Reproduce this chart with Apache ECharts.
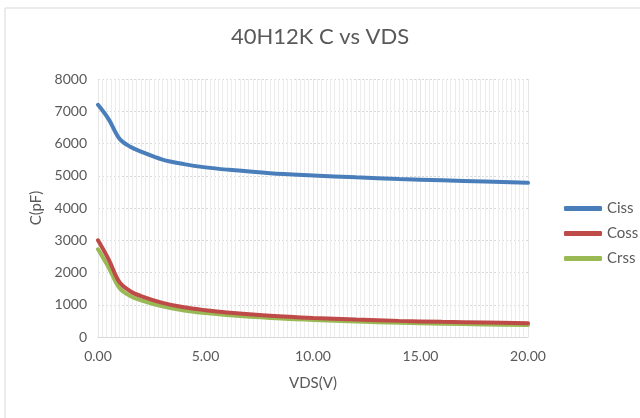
<!DOCTYPE html>
<html>
<head>
<meta charset="utf-8">
<script src="https://cdn.jsdelivr.net/npm/echarts@6/dist/echarts.min.js"></script>
<style>
  html, body { margin: 0; padding: 0; background: #fff; }
  #chart { width: 640px; height: 418px; }
</style>
</head>
<body>
<div id="chart"></div>
<script>
// Capacitance vs drain-source voltage for the 40H12K
const vds  = [0, 0.5, 1, 1.5, 2, 3, 4, 5, 6, 8, 10, 12, 14, 16, 18, 20];
const ciss = [7200, 6750, 6150, 5900, 5750, 5500, 5360, 5260, 5190, 5080, 5010, 4950, 4900, 4860, 4820, 4780];
const coss = [3000, 2400, 1700, 1420, 1270, 1060, 920, 830, 760, 660, 590, 540, 500, 470, 450, 430];
const crss = [2720, 2150, 1520, 1270, 1140, 950, 820, 740, 680, 590, 530, 480, 440, 410, 390, 370];

const seriesNames = ['Ciss', 'Coss', 'Crss'];
const seriesColors = ['#4a7ebb', '#be4b48', '#98b954'];

const FONT = 'Lato, "Noto Sans", sans-serif';
const TEXT = '#595959';

const pairs = ys => vds.map((x, i) => [x, ys[i]]);

const chart = echarts.init(document.getElementById('chart'), null, { renderer: 'canvas' });
chart.setOption({
  backgroundColor: '#fff',
  animation: false,
  title: {
    text: '40H12K C vs VDS',
    left: 'center',
    top: 26,
    padding: [0, 0, 0, 10],
    textStyle: { fontFamily: FONT, fontSize: 22, fontWeight: 'normal', color: TEXT }
  },
  graphic: [{
    type: 'rect',
    shape: { x: 5, y: 8, width: 660, height: 430 },
    style: { fill: 'none', stroke: '#d9d9d9', lineWidth: 1 },
    silent: true
  }],
  legend: {
    orient: 'vertical',
    left: 559,
    top: 196,
    icon: 'roundRect',
    itemWidth: 38,
    itemHeight: 5,
    itemGap: 10,
    textStyle: { fontFamily: FONT, fontSize: 15, color: TEXT },
    data: seriesNames
  },
  grid: { left: 98, right: 112, top: 79, bottom: 81 },
  xAxis: {
    type: 'value',
    min: 0, max: 20, interval: 5,
    name: 'VDS(V)',
    nameLocation: 'middle',
    nameGap: 39,
    nameTextStyle: { fontFamily: FONT, fontSize: 15, color: TEXT },
    axisLine: { show: true, lineStyle: { color: '#d9d9d9', width: 1 } },
    axisTick: { show: false },
    axisLabel: {
      fontFamily: FONT, fontSize: 14, color: TEXT, margin: 12,
      formatter: v => v.toFixed(2)
    },
    splitLine: { show: true, lineStyle: { color: '#e6e6e6', width: 1 } },
    minorTick: { show: false, splitNumber: 25 },
    minorSplitLine: { show: true, lineStyle: { color: '#ececec', width: 1 } }
  },
  yAxis: {
    type: 'value',
    min: 0, max: 8000, interval: 1000,
    name: 'C(pF)',
    nameLocation: 'middle',
    nameGap: 52,
    nameTextStyle: { fontFamily: FONT, fontSize: 15, color: TEXT },
    axisLine: { show: false },
    axisTick: { show: false },
    axisLabel: { fontFamily: FONT, fontSize: 14, color: TEXT, margin: 11, formatter: v => String(v) },
    splitLine: { show: true, lineStyle: { color: '#d9d9d9', width: 1, type: [2, 2] } }
  },
  series: [
    { name: 'Ciss', data: pairs(ciss) },
    { name: 'Coss', data: pairs(coss) },
    { name: 'Crss', data: pairs(crss) }
  ].map((s, i) => ({
    ...s,
    type: 'line',
    smooth: 0.35,
    symbol: 'none',
    color: seriesColors[i],
    lineStyle: { width: 4, color: seriesColors[i], cap: 'round' },
    z: 10 - i
  }))
});
</script>
</body>
</html>
